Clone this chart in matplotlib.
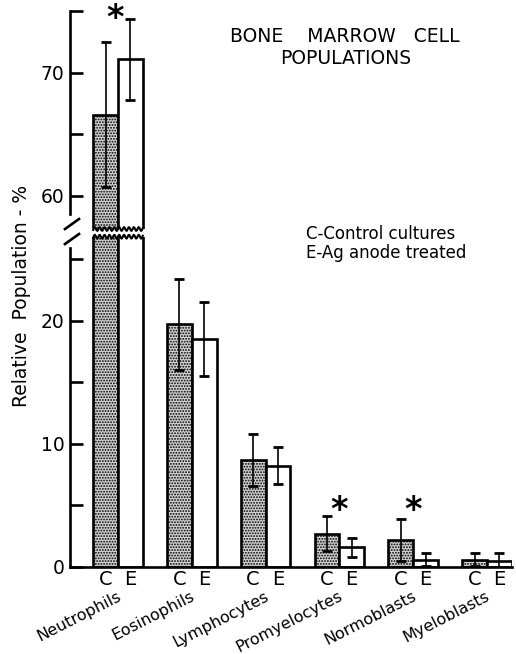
import matplotlib.pyplot as plt
import matplotlib.transforms as mtransforms
import numpy as np

plt.rcParams['font.family'] = "DejaVu Sans"
plt.rcParams['hatch.linewidth'] = 0.9

cells = ["Neutrophils", "Eosinophils", "Lymphocytes", "Promyelocytes", "Normoblasts", "Myeloblasts"]
control = [66.6, 19.7, 8.7, 2.7, 2.2, 0.6]
control_err = [5.9, 3.7, 2.1, 1.4, 1.7, 0.5]
treated = [71.1, 18.5, 8.2, 1.6, 0.6, 0.5]
treated_err = [3.3, 3.0, 1.5, 0.75, 0.55, 0.6]
signif = [True, False, False, True, True, False]

W, H = 516, 654
fig = plt.figure(figsize=(W / 100, H / 100), dpi=100)

def frac_box(x0, y_top, x1, y_bot):
    # pixel box -> figure fraction [left, bottom, width, height]
    return [x0 / W, 1 - y_bot / H, (x1 - x0) / W, (y_bot - y_top) / H]

ax_top = fig.add_axes(frac_box(70, 10, 512, 229))
ax_bot = fig.add_axes(frac_box(70, 236.7, 512, 567))

x = np.arange(len(cells))
w = 0.336
lw = 1.9

for ax in (ax_top, ax_bot):
    ax.bar(x - w / 2, control, w, color="#d2d2d2", edgecolor="black", hatch="......", linewidth=lw)
    ax.bar(x + w / 2, treated, w, color="white", edgecolor="black", linewidth=lw)
    ax.errorbar(x - w / 2, control, yerr=control_err, fmt="none", ecolor="black",
                elinewidth=1.2, capsize=3.5, capthick=2)
    ax.errorbar(x + w / 2, treated, yerr=treated_err, fmt="none", ecolor="black",
                elinewidth=1.2, capsize=3.5, capthick=2)
    ax.set_xlim(-0.65, 5.34)
    for s in ("top", "right"):
        ax.spines[s].set_visible(False)
    ax.spines["left"].set_linewidth(lw)
    ax.tick_params(axis="y", direction="in", length=9, width=lw, labelsize=13.5, pad=4)

ax_top.set_ylim(57.3, 75.1)
ax_top.spines["bottom"].set_visible(False)
ax_top.spines["left"].set_bounds(58.5, 75)
ax_top.set_yticks([60, 65, 70, 75], ["60", "", "70", ""])
ax_top.set_xticks([])

ax_bot.set_ylim(0, 26.8)
ax_bot.spines["left"].set_bounds(0, 25.9)
ax_bot.spines["bottom"].set_linewidth(lw)
ax_bot.set_yticks([0, 5, 10, 15, 20, 25], ["0", "", "10", "", "20", ""])
ax_bot.set_xticks(np.concatenate([x - w / 2, x + w / 2]),
                  ["C"] * len(cells) + ["E"] * len(cells))
ax_bot.tick_params(axis="x", length=0, labelsize=14, pad=2)

# category names, rotated
trans = mtransforms.blended_transform_factory(ax_bot.transData, ax_bot.transAxes)
for i, name in enumerate(cells):
    ax_bot.text(i - 0.02, -0.066, name, transform=trans, rotation=27,
                rotation_mode="anchor", ha="right", va="top", fontsize=11.5)

# significance marks
for i, s in enumerate(signif):
    if not s:
        continue
    if i == 0:
        ax_top.text(i - 0.04, 74.4, "*", ha="center", va="center", fontsize=24,
                    fontweight="bold")
    else:
        ax_bot.text(i, 4.6, "*", ha="center", va="center", fontsize=24,
                    fontweight="bold")

# wavy edges where the tall bars are cut
xs = np.linspace(-w, w, 60)
wave = 0.006 * np.sin(xs * 95)
ax_top.plot(xs, wave * 1.5, color="black", lw=1.5,
            transform=mtransforms.blended_transform_factory(ax_top.transData, ax_top.transAxes),
            clip_on=False)
ax_bot.plot(xs, 1.0 + wave, color="black", lw=1.5,
            transform=mtransforms.blended_transform_factory(ax_bot.transData, ax_bot.transAxes),
            clip_on=False)

# axis break slashes
for yb in (229, 244):
    fig.add_artist(plt.Line2D([65 / W, 79 / W], [1 - yb / H, 1 - (yb - 10) / H],
                              color="black", lw=lw))

fig.text(22 / W, 1 - 296 / H, "Relative  Population - %", rotation=90,
         ha="center", va="center", fontsize=13.5)
fig.text(230 / W, 1 - 37 / H, "BONE    MARROW   CELL", ha="left", va="center", fontsize=13.5)
fig.text(280 / W, 1 - 58 / H, "POPULATIONS", ha="left", va="center", fontsize=13.5)
fig.text(306 / W, 1 - 234 / H, "C-Control cultures", ha="left", va="center", fontsize=12)
fig.text(306 / W, 1 - 253 / H, "E-Ag anode treated", ha="left", va="center", fontsize=12)

fig.savefig("out.png", dpi=100)
